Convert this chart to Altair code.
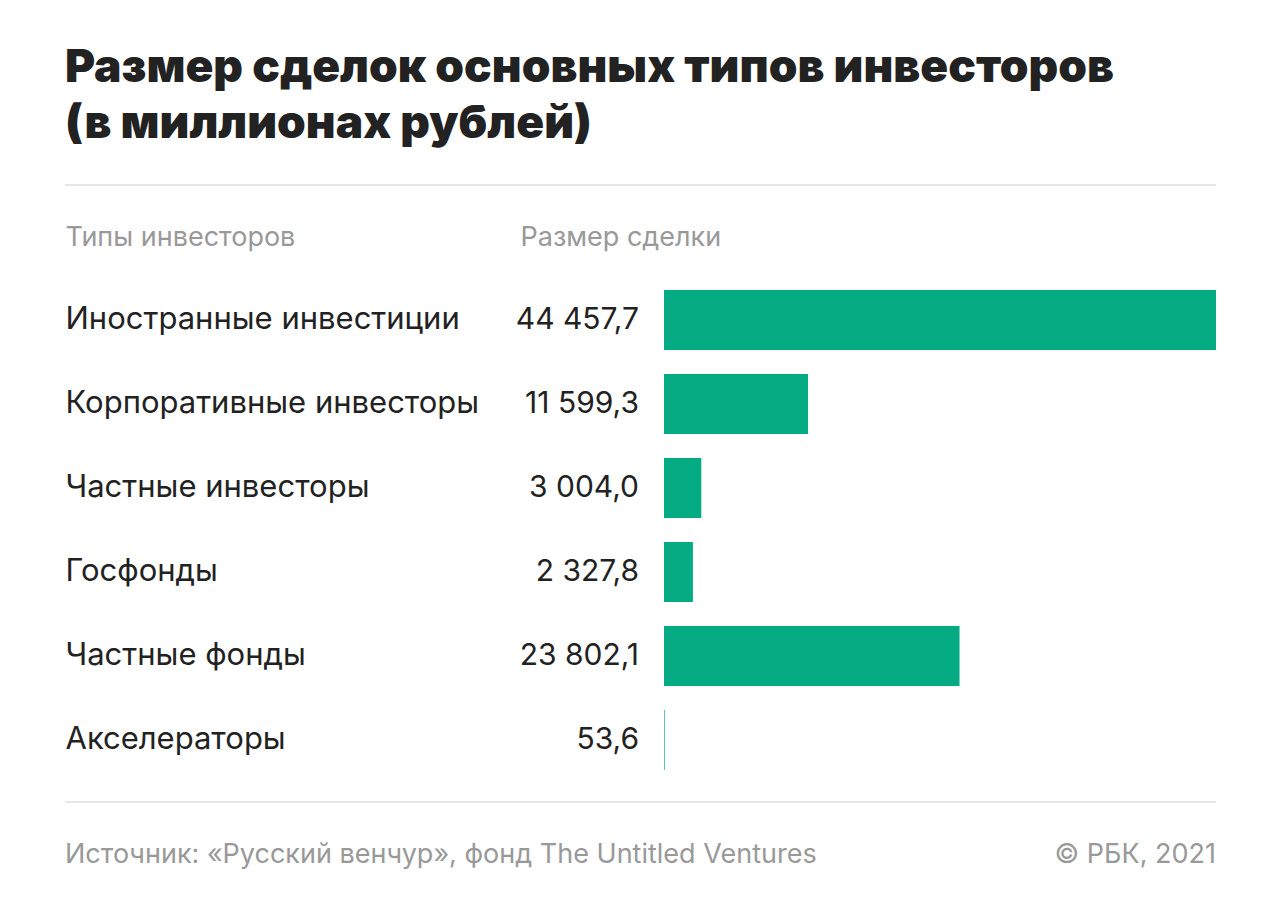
import altair as alt
import pandas as pd

categories = [
    "Иностранные инвестиции",
    "Корпоративные инвесторы",
    "Частные инвесторы",
    "Госфонды",
    "Частные фонды",
    "Акселераторы",
]
values = [44457.7, 11599.3, 3004.0, 2327.8, 23802.1, 53.6]


def fmt(v):
    s = f"{v:,.1f}"
    return s.replace(",", " ").replace(".", ",")


df = pd.DataFrame({
    "cat": categories,
    "val": values,
    "label": [fmt(v) for v in values],
})

FONT = "Inter"
DARK = "#222222"
GRAY = "#999999"
LINE = "#e6e6e6"
GREEN = "#05ab83"

W, H = 552, 504

y_enc = alt.Y(
    "cat:N",
    sort=categories,
    scale=alt.Scale(paddingInner=0.2857, paddingOuter=0.142857),
    axis=alt.Axis(
        title="Типы инвесторов",
        titleAngle=0,
        titleAlign="left",
        titleBaseline="middle",
        titleX=-599,
        titleY=-41,
        titleFont=FONT,
        titleFontSize=27,
        titleFontWeight="normal",
        titleColor=GRAY,
        labelAlign="left",
        labelBaseline="middle",
        labelPadding=599,
        labelFont=FONT,
        labelFontSize=31,
        labelColor=DARK,
        labelLimit=600,
        ticks=False,
        tickSize=0,
        domain=False,
        grid=False,
    ),
)

x_enc = alt.X(
    "val:Q",
    scale=alt.Scale(domain=[0, max(values)], nice=False, zero=True),
    axis=alt.Axis(
        orient="top",
        title="Размер сделки",
        titleX=-144,
        titleY=-41,
        titleAlign="left",
        titleBaseline="middle",
        titleFont=FONT,
        titleFontSize=27,
        titleFontWeight="normal",
        titleColor=GRAY,
        labels=False,
        ticks=False,
        domain=False,
        grid=False,
    ),
)

base = alt.Chart(df)

bars = base.mark_bar(color=GREEN).encode(x=x_enc, y=y_enc)

vals = base.mark_text(
    align="right", baseline="middle", font=FONT, fontSize=30, color=DARK
).encode(x=alt.value(-25), y=alt.Y("cat:N", sort=categories), text="label:N")

rules_df = pd.DataFrame({"pos": ["top", "bottom"]})
rule_top = alt.Chart(rules_df).transform_filter("datum.pos == 'top'").mark_rule(
    color=LINE, strokeWidth=2
).encode(x=alt.value(-599), x2=alt.value(W), y=alt.value(-93))
rule_bot = alt.Chart(rules_df).transform_filter("datum.pos == 'bottom'").mark_rule(
    color=LINE, strokeWidth=2
).encode(x=alt.value(-599), x2=alt.value(W), y=alt.value(524))

foot_df = pd.DataFrame({
    "t": ["Источник: «Русский венчур», фонд The Untitled Ventures", "© РБК, 2021"],
    "side": ["left", "right"],
})
foot_left = alt.Chart(foot_df).transform_filter("datum.side == 'left'").mark_text(
    align="left", baseline="middle", font=FONT, fontSize=27, color=GRAY
).encode(x=alt.value(-599), y=alt.value(577), text="t:N")
foot_right = alt.Chart(foot_df).transform_filter("datum.side == 'right'").mark_text(
    align="right", baseline="middle", font=FONT, fontSize=27, color=GRAY
).encode(x=alt.value(W), y=alt.value(577), text="t:N")

chart = alt.layer(
    bars, vals, rule_top, rule_bot, foot_left, foot_right
).resolve_scale(y="shared").properties(
    width=W,
    height=H,
    title=alt.TitleParams(
        text=["Размер сделок основных типов инвесторов", "(в миллионах рублей)"],
        anchor="start",
        frame="group",
        dx=-599,
        offset=36,
        font=FONT,
        fontSize=46,
        fontWeight=900,
        lineHeight=56,
        color=DARK,
    ),
    autosize=alt.AutoSizeParams(type="none"),
    padding={"left": 656, "top": 270, "right": 56, "bottom": 126},
).configure(background="white").configure_view(strokeWidth=0, stroke=None)

chart.save("out.html", embed_options={"renderer": "svg", "actions": False})
